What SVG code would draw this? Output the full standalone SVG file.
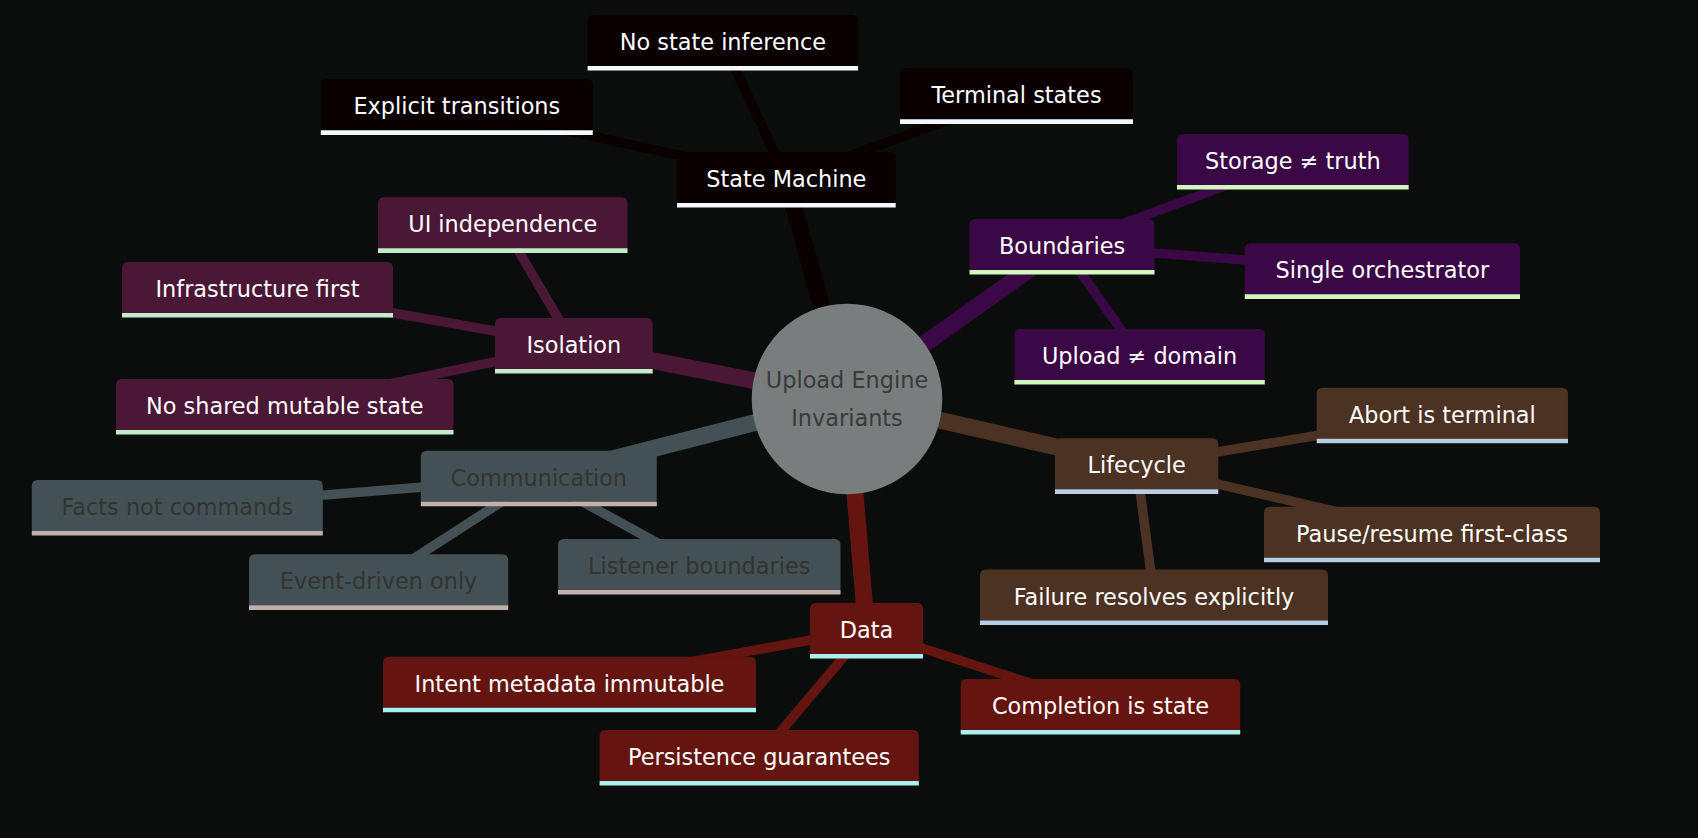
<svg xmlns="http://www.w3.org/2000/svg" width="1698" height="838" viewBox="0 0 1698 838">
<style>
text{font-family:"DejaVu Sans","Liberation Sans",sans-serif;font-size:22.4px;text-anchor:middle;fill:#ffffff}
.e0{stroke-width:17;fill:none}
.e1{stroke-width:9.5;fill:none}
.ul{stroke-width:4.6}
.sm path{fill:#0a0000}.sm line{stroke:#f2f8fb}.esm{stroke:#0a0000}
.bd path{fill:#3a0845}.bd line{stroke:#d2f7bf}.ebd{stroke:#3a0845}
.lc path{fill:#4b3222}.lc line{stroke:#b6cde3}.elc{stroke:#4b3222}
.dt path{fill:#651510}.dt line{stroke:#a9f0f1}.edt{stroke:#651510}
.cm path{fill:#435155}.cm line{stroke:#c1b1aa}.cm text{fill:#333333}.ecm{stroke:#435155}
.is path{fill:#4a1737}.is line{stroke:#c4ebcc}.eis{stroke:#4a1737}
</style>
<rect width="1698" height="838" fill="#0b0d0d"/>
<g id="edges">
<line class="e0 esm" x1="847" y1="399" x2="786.4" y2="179"/>
<line class="e1 esm" x1="786.4" y1="179" x2="722.9" y2="42"/>
<line class="e1 esm" x1="786.4" y1="179" x2="456.8" y2="106.3"/>
<line class="e1 esm" x1="786.4" y1="179" x2="1016.5" y2="95.3"/>
<line class="e0 ebd" x1="847" y1="399" x2="1062" y2="246"/>
<line class="e1 ebd" x1="1062" y1="246" x2="1292.9" y2="161"/>
<line class="e1 ebd" x1="1062" y1="246" x2="1382.4" y2="270.3"/>
<line class="e1 ebd" x1="1062" y1="246" x2="1139.6" y2="356"/>
<line class="e0 elc" x1="847" y1="399" x2="1136.7" y2="465.3"/>
<line class="e1 elc" x1="1136.7" y1="465.3" x2="1442.4" y2="414.7"/>
<line class="e1 elc" x1="1136.7" y1="465.3" x2="1432" y2="533.7"/>
<line class="e1 elc" x1="1136.7" y1="465.3" x2="1154" y2="596.5"/>
<line class="e0 edt" x1="847" y1="399" x2="866.5" y2="630"/>
<line class="e1 edt" x1="866.5" y1="630" x2="569.5" y2="683.7"/>
<line class="e1 edt" x1="866.5" y1="630" x2="1100.5" y2="706"/>
<line class="e1 edt" x1="866.5" y1="630" x2="759.2" y2="757"/>
<line class="e0 ecm" x1="847" y1="399" x2="538.8" y2="477.7"/>
<line class="e1 ecm" x1="538.8" y1="477.7" x2="177.3" y2="507"/>
<line class="e1 ecm" x1="538.8" y1="477.7" x2="378.6" y2="581.3"/>
<line class="e1 ecm" x1="538.8" y1="477.7" x2="699.3" y2="566"/>
<line class="e0 eis" x1="847" y1="399" x2="573.9" y2="345"/>
<line class="e1 eis" x1="573.9" y1="345" x2="502.8" y2="224.3"/>
<line class="e1 eis" x1="573.9" y1="345" x2="257.5" y2="289"/>
<line class="e1 eis" x1="573.9" y1="345" x2="284.8" y2="406"/>
</g>
<g id="root">
<circle cx="847" cy="399" r="95.3" fill="#797d7d"/>
<text x="847" y="388" fill="#3a3a3a" style="fill:#3a3a3a">Upload Engine</text>
<text x="847" y="426" style="fill:#3a3a3a">Invariants</text>
</g>
<g id="state-machine" class="sm" transform="translate(677,152)"><path d="M0,51V6Q0,0 6,0H212.7Q218.7,0 218.7,6V51Z"/><line class="ul" x1="0" y1="53.3" x2="218.7" y2="53.3"/><text x="109.35" y="35">State Machine</text></g>
<g id="no-state-inference" class="sm" transform="translate(587.6,15)"><path d="M0,51V6Q0,0 6,0H264.5Q270.5,0 270.5,6V51Z"/><line class="ul" x1="0" y1="53.3" x2="270.5" y2="53.3"/><text x="135.25" y="35">No state inference</text></g>
<g id="explicit-transitions" class="sm" transform="translate(320.8,79.3)"><path d="M0,51V6Q0,0 6,0H266Q272,0 272,6V51Z"/><line class="ul" x1="0" y1="53.3" x2="272" y2="53.3"/><text x="136" y="35">Explicit transitions</text></g>
<g id="terminal-states" class="sm" transform="translate(900,68.3)"><path d="M0,51V6Q0,0 6,0H227Q233,0 233,6V51Z"/><line class="ul" x1="0" y1="53.3" x2="233" y2="53.3"/><text x="116.5" y="35">Terminal states</text></g>
<g id="boundaries" class="bd" transform="translate(969.5,219)"><path d="M0,51V6Q0,0 6,0H179Q185,0 185,6V51Z"/><line class="ul" x1="0" y1="53.3" x2="185" y2="53.3"/><text x="92.5" y="35">Boundaries</text></g>
<g id="storage-truth" class="bd" transform="translate(1177,134)"><path d="M0,51V6Q0,0 6,0H225.7Q231.7,0 231.7,6V51Z"/><line class="ul" x1="0" y1="53.3" x2="231.7" y2="53.3"/><text x="115.85" y="35">Storage ≠ truth</text></g>
<g id="single-orchestrator" class="bd" transform="translate(1244.8,243.3)"><path d="M0,51V6Q0,0 6,0H269.2Q275.2,0 275.2,6V51Z"/><line class="ul" x1="0" y1="53.3" x2="275.2" y2="53.3"/><text x="137.6" y="35">Single orchestrator</text></g>
<g id="upload-domain" class="bd" transform="translate(1014.4,329)"><path d="M0,51V6Q0,0 6,0H244.4Q250.4,0 250.4,6V51Z"/><line class="ul" x1="0" y1="53.3" x2="250.4" y2="53.3"/><text x="125.2" y="35">Upload ≠ domain</text></g>
<g id="lifecycle" class="lc" transform="translate(1055,438.3)"><path d="M0,51V6Q0,0 6,0H157.3Q163.3,0 163.3,6V51Z"/><line class="ul" x1="0" y1="53.3" x2="163.3" y2="53.3"/><text x="81.65" y="35">Lifecycle</text></g>
<g id="abort-is-terminal" class="lc" transform="translate(1316.7,387.7)"><path d="M0,51V6Q0,0 6,0H245.3Q251.3,0 251.3,6V51Z"/><line class="ul" x1="0" y1="53.3" x2="251.3" y2="53.3"/><text x="125.65" y="35">Abort is terminal</text></g>
<g id="pause-resume" class="lc" transform="translate(1264,506.7)"><path d="M0,51V6Q0,0 6,0H330Q336,0 336,6V51Z"/><line class="ul" x1="0" y1="53.3" x2="336" y2="53.3"/><text x="168" y="35">Pause/resume first-class</text></g>
<g id="failure-resolves" class="lc" transform="translate(980,569.5)"><path d="M0,51V6Q0,0 6,0H342Q348,0 348,6V51Z"/><line class="ul" x1="0" y1="53.3" x2="348" y2="53.3"/><text x="174" y="35">Failure resolves explicitly</text></g>
<g id="data" class="dt" transform="translate(810,603)"><path d="M0,51V6Q0,0 6,0H107Q113,0 113,6V51Z"/><line class="ul" x1="0" y1="53.3" x2="113" y2="53.3"/><text x="56.5" y="35">Data</text></g>
<g id="intent-metadata" class="dt" transform="translate(383,656.7)"><path d="M0,51V6Q0,0 6,0H367Q373,0 373,6V51Z"/><line class="ul" x1="0" y1="53.3" x2="373" y2="53.3"/><text x="186.5" y="35">Intent metadata immutable</text></g>
<g id="completion-is-state" class="dt" transform="translate(960.7,679)"><path d="M0,51V6Q0,0 6,0H273.5Q279.5,0 279.5,6V51Z"/><line class="ul" x1="0" y1="53.3" x2="279.5" y2="53.3"/><text x="139.75" y="35">Completion is state</text></g>
<g id="persistence-guarantees" class="dt" transform="translate(599.6,730)"><path d="M0,51V6Q0,0 6,0H313.2Q319.2,0 319.2,6V51Z"/><line class="ul" x1="0" y1="53.3" x2="319.2" y2="53.3"/><text x="159.6" y="35">Persistence guarantees</text></g>
<g id="communication" class="cm" transform="translate(420.8,450.7)"><path d="M0,51V6Q0,0 6,0H230Q236,0 236,6V51Z"/><line class="ul" x1="0" y1="53.3" x2="236" y2="53.3"/><text x="118" y="35">Communication</text></g>
<g id="facts-not-commands" class="cm" transform="translate(31.8,480)"><path d="M0,51V6Q0,0 6,0H285Q291,0 291,6V51Z"/><line class="ul" x1="0" y1="53.3" x2="291" y2="53.3"/><text x="145.5" y="35">Facts not commands</text></g>
<g id="event-driven-only" class="cm" transform="translate(249,554.3)"><path d="M0,51V6Q0,0 6,0H253.2Q259.2,0 259.2,6V51Z"/><line class="ul" x1="0" y1="53.3" x2="259.2" y2="53.3"/><text x="129.6" y="35">Event-driven only</text></g>
<g id="listener-boundaries" class="cm" transform="translate(558,539)"><path d="M0,51V6Q0,0 6,0H276.5Q282.5,0 282.5,6V51Z"/><line class="ul" x1="0" y1="53.3" x2="282.5" y2="53.3"/><text x="141.25" y="35">Listener boundaries</text></g>
<g id="isolation" class="is" transform="translate(495,318)"><path d="M0,51V6Q0,0 6,0H151.7Q157.7,0 157.7,6V51Z"/><line class="ul" x1="0" y1="53.3" x2="157.7" y2="53.3"/><text x="78.85" y="35">Isolation</text></g>
<g id="ui-independence" class="is" transform="translate(378,197.3)"><path d="M0,51V6Q0,0 6,0H243.5Q249.5,0 249.5,6V51Z"/><line class="ul" x1="0" y1="53.3" x2="249.5" y2="53.3"/><text x="124.75" y="35">UI independence</text></g>
<g id="infrastructure-first" class="is" transform="translate(122,262)"><path d="M0,51V6Q0,0 6,0H265Q271,0 271,6V51Z"/><line class="ul" x1="0" y1="53.3" x2="271" y2="53.3"/><text x="135.5" y="35">Infrastructure first</text></g>
<g id="no-shared-mutable-state" class="is" transform="translate(116,379)"><path d="M0,51V6Q0,0 6,0H331.5Q337.5,0 337.5,6V51Z"/><line class="ul" x1="0" y1="53.3" x2="337.5" y2="53.3"/><text x="168.75" y="35">No shared mutable state</text></g>
</svg>
